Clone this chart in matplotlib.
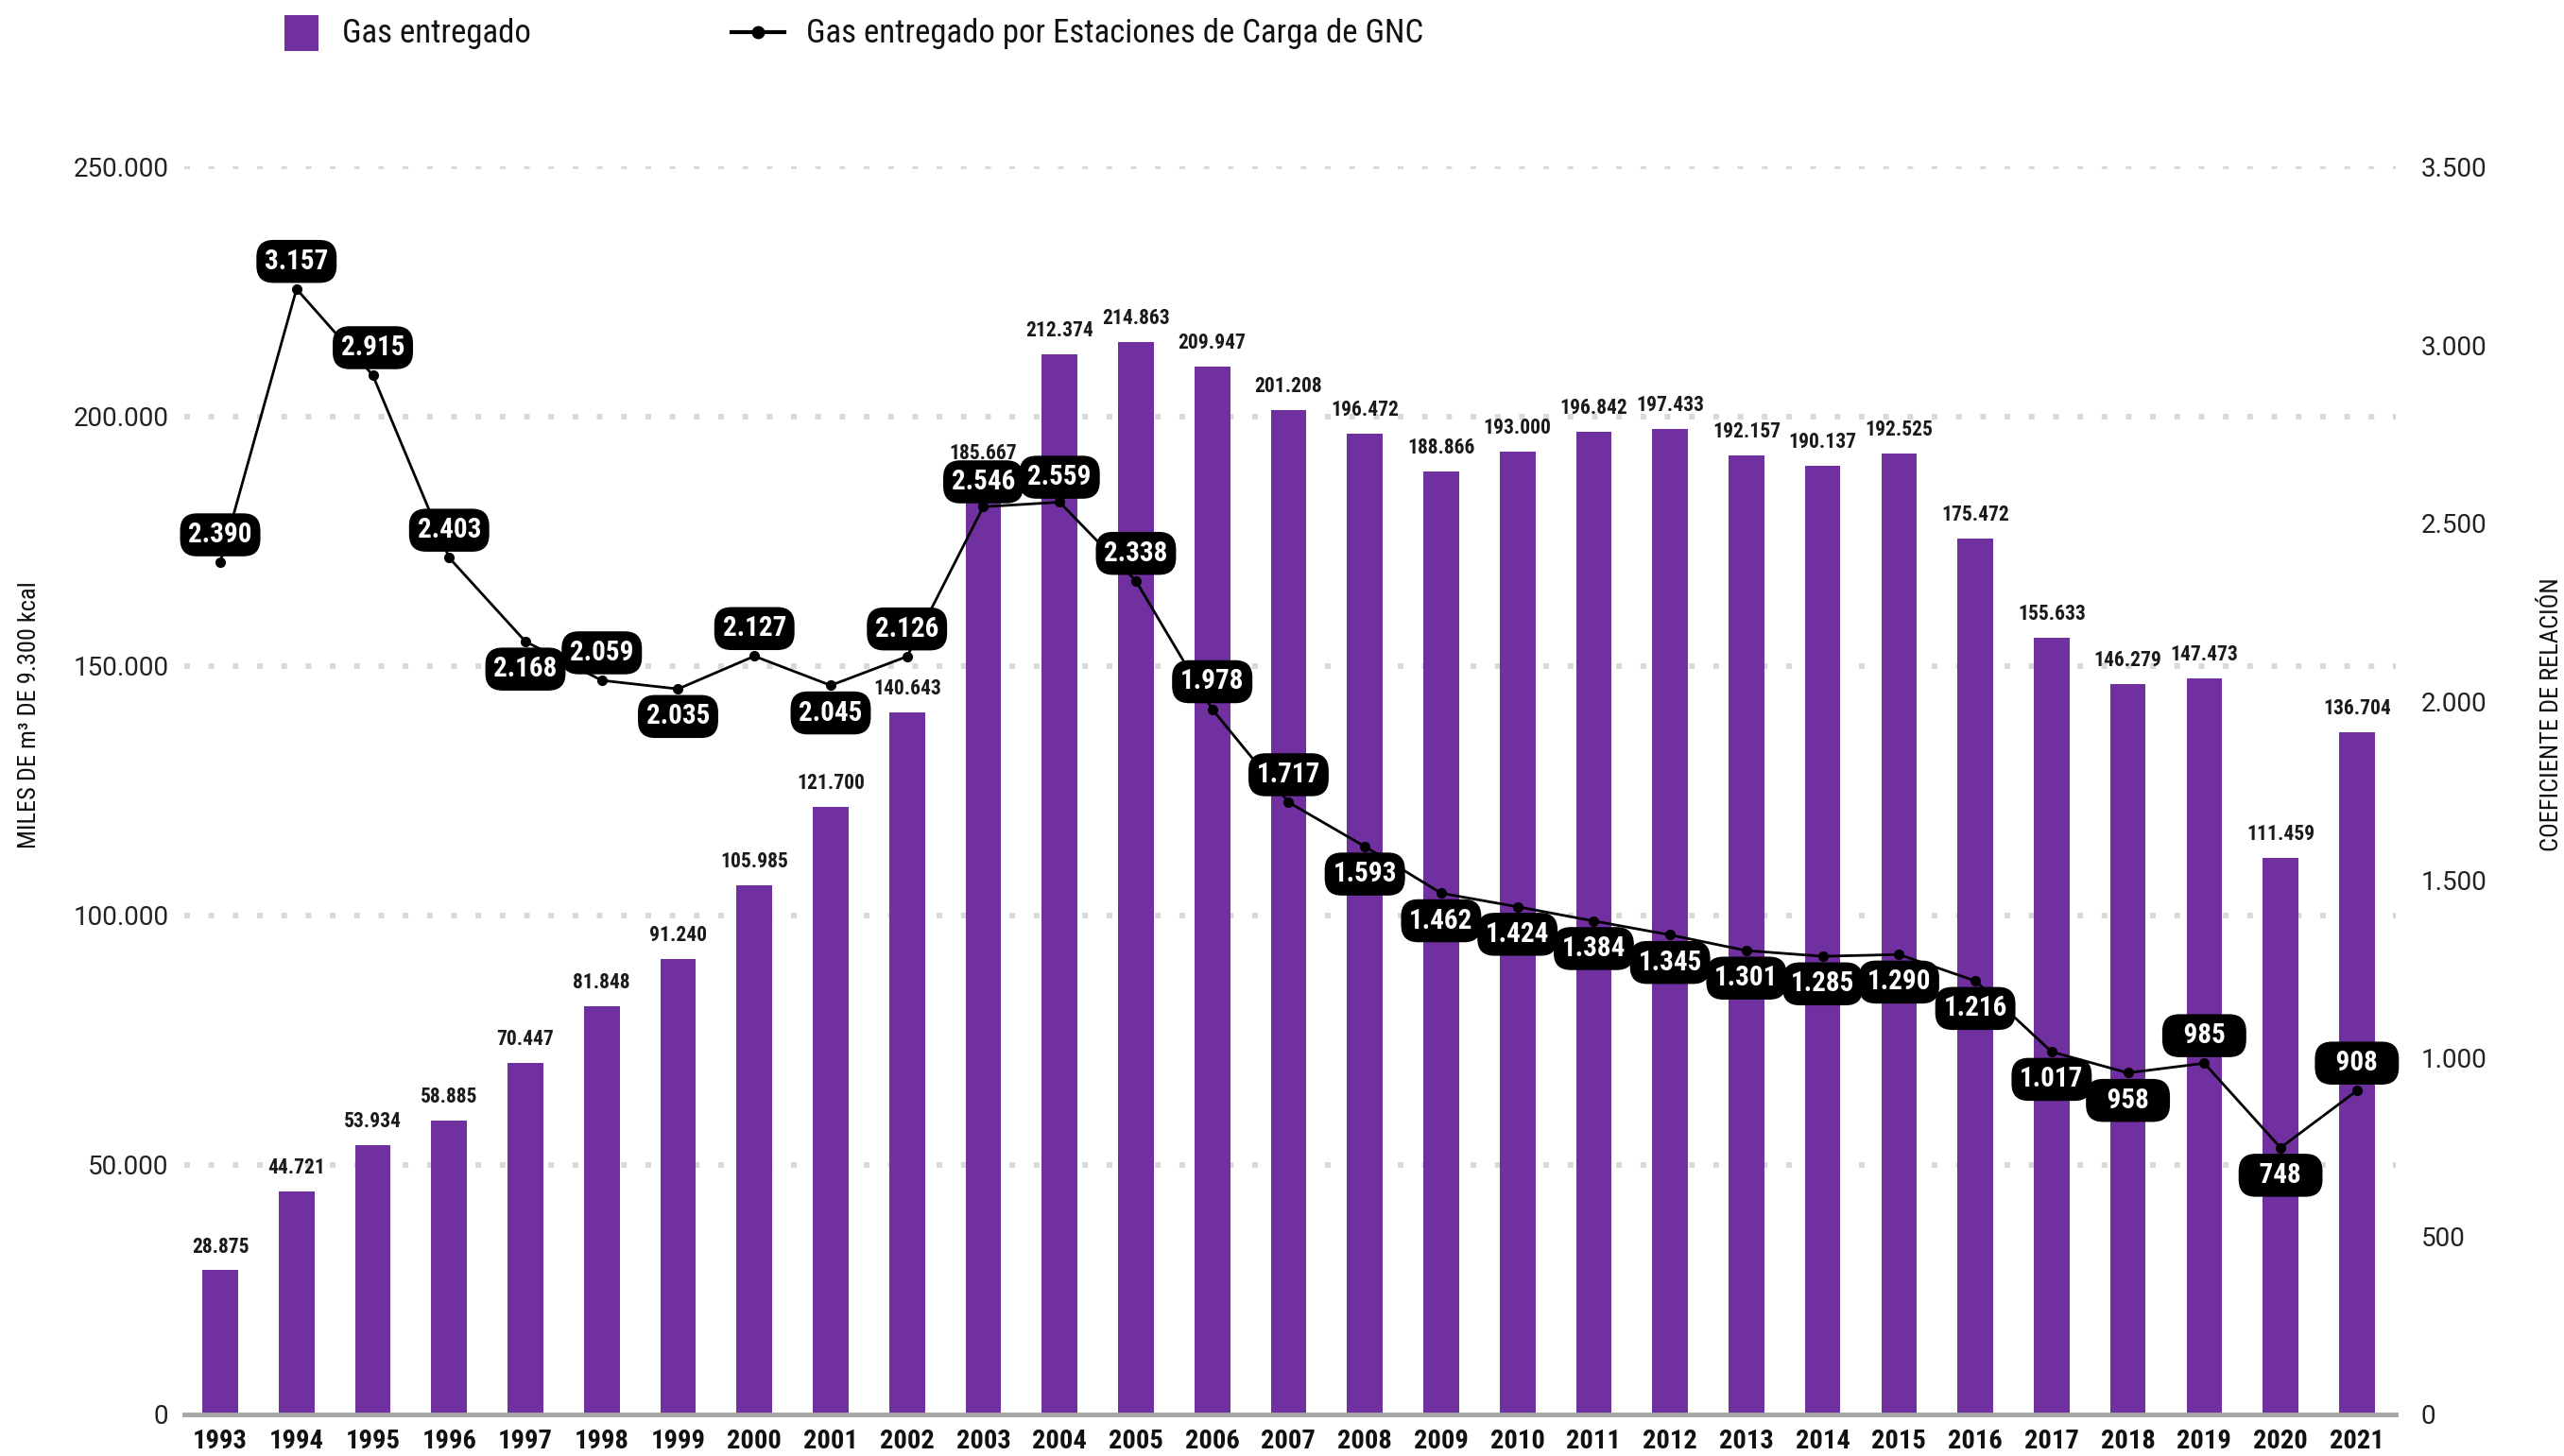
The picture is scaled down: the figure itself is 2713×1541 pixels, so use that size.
import matplotlib
matplotlib.use('Agg')
import matplotlib.pyplot as plt
from matplotlib.patches import Rectangle
from matplotlib.lines import Line2D

# --- Data ---

YEARS = [str(y) for y in range(1993, 2022)]

GAS = [28875, 44721, 53934, 58885, 70447, 81848, 91240, 105985, 121700, 140643,
       185667, 212374, 214863, 209947, 201208, 196472, 188866, 193000, 196842,
       197433, 192157, 190137, 192525, 175472, 155633, 146279, 147473, 111459,
       136704]

COEF = [2390, 3157, 2915, 2403, 2168, 2059, 2035, 2127, 2045, 2126,
        2546, 2559, 2338, 1978, 1717, 1593, 1462, 1424, 1384, 1345,
        1301, 1285, 1290, 1216, 1017, 958, 985, 748, 908]

# label above (1) or below (-1) the point
COEF_SIDE = [1, 1, 1, 1, -1, 1, -1, 1, -1, 1,
             1, 1, 1, 1, 1, -1, -1, -1, -1, -1,
             -1, -1, -1, -1, -1, -1, 1, -1, 1]

LEFT_TICKS = [0, 50000, 100000, 150000, 200000, 250000]
RIGHT_TICKS = [0, 500, 1000, 1500, 2000, 2500, 3000, 3500]

# --- Style ---

PURPLE = '#7030a0'
GRID = '#d9d9d9'
AXIS = '#a6a6a6'
COND = ['Roboto Condensed', 'DejaVu Sans Condensed', 'Liberation Sans Narrow', 'Roboto']
REG = ['Roboto', 'DejaVu Sans']


def fmt(v):
    return f'{v:,}'.replace(',', '.')


fig = plt.figure(figsize=(27.13, 15.41), dpi=100, facecolor='white')
ax = fig.add_axes([0.0719, 0.0286, 0.8625, 0.8569])
ax2 = ax.twinx()

x = list(range(len(YEARS)))

# gridlines (dotted, square dots)
for t in LEFT_TICKS[1:]:
    ax.axhline(t, color=GRID, linewidth=4.3, linestyle=(0, (1.0, 3.3)),
               dash_capstyle='butt', zorder=0)

ax.bar(x, GAS, width=0.467, color=PURPLE, zorder=2)
for xi, v in zip(x, GAS):
    # 2003 label sits above the line's pill label
    lift = 18 if YEARS[xi] == '2003' else 10
    ax.annotate(fmt(v), xy=(xi, v), xytext=(0, lift), textcoords='offset points',
                ha='center', va='bottom', fontsize=15.5, fontweight='bold',
                family=COND, color='#1a1a1a')

ax.set_xlim(-0.47, len(YEARS) - 0.49)
ax.set_ylim(0, 250000)
ax.set_yticks(LEFT_TICKS)
ax.set_yticklabels([fmt(t) for t in LEFT_TICKS], family=REG, fontsize=20, color='#222222')
ax.set_xticks(x)
ax.set_xticklabels(YEARS, family=COND, fontsize=20.5, fontweight='bold', color='#111111')
ax.tick_params(axis='y', length=0, pad=12)
ax.tick_params(axis='x', length=0, pad=11)
for s in ['top', 'right', 'left']:
    ax.spines[s].set_visible(False)
ax.spines['bottom'].set_color(AXIS)
ax.spines['bottom'].set_linewidth(3.5)
ax.spines['bottom'].set_zorder(3)

# line on secondary axis
ax2.plot(x, COEF, color='black', linewidth=2, marker='o', markersize=7, zorder=4)
for xi, v, side in zip(x, COEF, COEF_SIDE):
    off = 19 if (side > 0 and YEARS[xi] in ('2003', '2004')) else 21
    label = fmt(v)
    if len(label) < 4:
        # pills keep the same width for short numbers
        label = '  ' + label + '  '
    ax2.annotate(label, xy=(xi, v), xytext=(0, off * side), textcoords='offset points',
                 ha='center', va='center', fontsize=21, fontweight='bold',
                 family=COND, color='white', zorder=5,
                 bbox=dict(boxstyle='round,pad=0.3,rounding_size=0.62',
                           facecolor='black', edgecolor='none'))

ax2.set_ylim(0, 3500)
ax2.set_yticks(RIGHT_TICKS)
ax2.set_yticklabels([fmt(t) for t in RIGHT_TICKS], family=REG, fontsize=20, color='#222222')
ax2.tick_params(axis='y', length=0, pad=19)
for s in ['top', 'right', 'left', 'bottom']:
    ax2.spines[s].set_visible(False)

# axis titles
fig.text(0.0114, 0.509, 'MILES DE m³ DE 9.300 kcal', rotation=90, ha='center', va='center',
         fontsize=19, family=COND, color='#111111')
fig.text(0.9952, 0.509, 'COEFICIENTE DE RELACIÓN', rotation=90, ha='center', va='center',
         fontsize=19, family=COND, color='#111111')

# legend
fig.patches.append(Rectangle((301 / 2713, 1 - 54 / 1541), 36 / 2713, 38 / 1541,
                             transform=fig.transFigure, facecolor=PURPLE, edgecolor='none'))
fig.text(362 / 2713, 1 - 35 / 1541, 'Gas entregado', ha='left', va='center',
         fontsize=25, family=COND, color='#111111')
fig.lines.append(Line2D([774 / 2713, 830 / 2713], [1 - 34 / 1541, 1 - 34 / 1541],
                        transform=fig.transFigure, color='black', linewidth=3))
fig.lines.append(Line2D([802 / 2713], [1 - 34 / 1541], transform=fig.transFigure,
                        color='black', marker='o', markersize=9))
fig.text(853 / 2713, 1 - 35 / 1541, 'Gas entregado por Estaciones de Carga de GNC',
         ha='left', va='center', fontsize=25, family=COND, color='#111111')

fig.savefig('out.png', dpi=100, facecolor='white')
